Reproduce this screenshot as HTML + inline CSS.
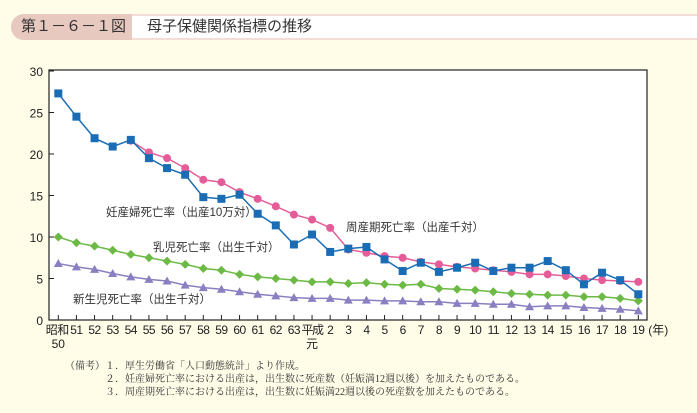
<!DOCTYPE html>
<html><head><meta charset="utf-8"><style>
body{margin:0;background:#fffce8;width:697px;height:413px;overflow:hidden;font-family:"Liberation Sans","Noto Sans CJK JP",sans-serif;}
.hdr{position:absolute;left:11px;top:14px;width:700px;height:26px;border-radius:13px;background:#f3ddd6;}
.hl{position:absolute;left:11px;top:14px;width:121px;height:26px;border-radius:13px 0 0 13px;background:#e8c9c0;font-size:15px;line-height:26px;padding-left:10px;box-sizing:border-box;color:#333;}
.hr{position:absolute;left:132px;top:16px;width:570px;height:22px;background:#fff;font-size:15px;line-height:22px;padding-left:15px;box-sizing:border-box;color:#333;}
.notes{position:absolute;left:65px;top:360px;font-family:"Liberation Serif","Noto Serif CJK SC",serif;font-size:10px;line-height:13px;color:#333;white-space:pre;}
svg text{font-family:"Liberation Sans","Noto Sans CJK JP",sans-serif;}
</style></head><body>
<div class="hdr"></div>
<div class="hl">第１－６－１図</div>
<div class="hr">母子保健関係指標の推移</div>
<svg id="c" width="697" height="413" style="position:absolute;left:0;top:0"></svg>
<div class="notes">（備考）１．厚生労働省「人口動態統計」より作成。
　　　　２．妊産婦死亡率における出産は，出生数に死産数（妊娠満12週以後）を加えたものである。
　　　　３．周産期死亡率における出産は，出生数に妊娠満22週以後の死産数を加えたものである。</div>
<script>
const xLabels=["昭和","51","52","53","54","55","56","57","58","59","60","61","62","63","平成","2","3","4","5","6","7","8","9","10","11","12","13","14","15","16","17","18","19"];
const yTicks=[0,5,10,15,20,25,30];
const maternal=[27.3,24.5,21.9,20.9,21.7,19.5,18.3,17.5,14.8,14.6,15.1,12.8,11.4,9.1,10.3,8.2,8.6,8.8,7.3,5.9,6.9,5.8,6.3,6.9,5.9,6.3,6.3,7.1,6.0,4.3,5.7,4.8,3.1];
const perinatal=[null,null,null,null,21.6,20.2,19.5,18.3,16.9,16.6,15.4,14.6,13.7,12.7,12.1,11.1,8.5,8.1,7.7,7.5,7.0,6.7,6.4,6.2,6.0,5.8,5.5,5.5,5.3,5.0,4.8,4.7,4.6];
const infant=[10.0,9.3,8.9,8.4,7.9,7.5,7.1,6.7,6.2,6.0,5.5,5.2,5.0,4.8,4.6,4.6,4.4,4.5,4.3,4.2,4.3,3.8,3.7,3.6,3.4,3.2,3.1,3.0,3.0,2.8,2.8,2.6,2.3];
const neonatal=[6.8,6.4,6.1,5.6,5.2,4.9,4.7,4.2,3.9,3.7,3.4,3.1,2.9,2.7,2.6,2.6,2.4,2.4,2.3,2.3,2.2,2.2,2.0,2.0,1.9,1.9,1.6,1.7,1.7,1.5,1.4,1.3,1.1];
const svg=document.getElementById('c');const NS='http://www.w3.org/2000/svg';
const X=i=>58.3+i*18.125, Y=v=>320-v*8.3;
function mk(t,a,p){const e=document.createElementNS(NS,t);for(const k in a)e.setAttribute(k,a[k]);(p||svg).appendChild(e);return e;}
const frame=mk('rect',{x:49,y:70,width:598,height:250,fill:'#fff',stroke:'#222','stroke-width':1.2});


yTicks.forEach(v=>{const t=mk('text',{x:43,y:Y(v)+5,'text-anchor':'end','font-size':12,fill:'#222'});t.textContent=v;


mk('line',{x1:49,x2:54,y1:Y(v),y2:Y(v),stroke:'#222'});});
xLabels.forEach((l,i)=>{mk('line',{x1:X(i),x2:X(i),y1:320,y2:315,stroke:'#222'});
const t=mk('text',{x:X(i)+(i==0?-1:0),y:334,'text-anchor':'middle','font-size':12,fill:'#222','letter-spacing':(i==14?-1.5:-0.5)});t.textContent=l;

});
[["50",X(0),348],["元",X(14),348],["(年)",X(32)+20,334]].forEach(a=>{const t=mk('text',{x:a[1],y:a[2],'text-anchor':'middle','font-size':12,fill:'#222'});t.textContent=a[0];

});
function series(arr,color,shape,name){const g=mk('g',{});


let d='';arr.forEach((v,i)=>{if(v==null)return;d+=(d?'L':'M')+X(i)+' '+Y(v);});
mk('path',{d,fill:'none',stroke:color,'stroke-width':1.5},g);
arr.forEach((v,i)=>{if(v==null)return;const x=X(i),y=Y(v);let m;
if(shape=='sq')m=mk('rect',{x:x-4,y:y-4,width:8,height:8,fill:color},g);
else if(shape=='ci')m=mk('circle',{cx:x,cy:y,r:4,fill:color},g);
else if(shape=='di')m=mk('path',{d:`M${x} ${y-4.5}L${x+4.5} ${y}L${x} ${y+4.5}L${x-4.5} ${y}Z`,fill:color},g);
else m=mk('path',{d:`M${x} ${y-4.5}L${x+4.5} ${y+3.5}L${x-4.5} ${y+3.5}Z`,fill:color},g);

});}
series(neonatal,'#8a7fc0','tr','neonatal-mortality');
series(infant,'#6cba45','di','infant-mortality');
series(perinatal,'#e55d98','ci','perinatal-mortality');
series(maternal,'#1a6db4','sq','maternal-mortality');
[["妊産婦死亡率（出産10万対）",106,216],["乳児死亡率（出生千対）",153,251],["新生児死亡率（出生千対）",73,303],["周産期死亡率（出産千対）",346,231]].forEach(a=>{const t=mk('text',{x:a[1],y:a[2],'font-size':11.5,fill:'#333'});t.textContent=a[0];

});
</script>
</body></html>
